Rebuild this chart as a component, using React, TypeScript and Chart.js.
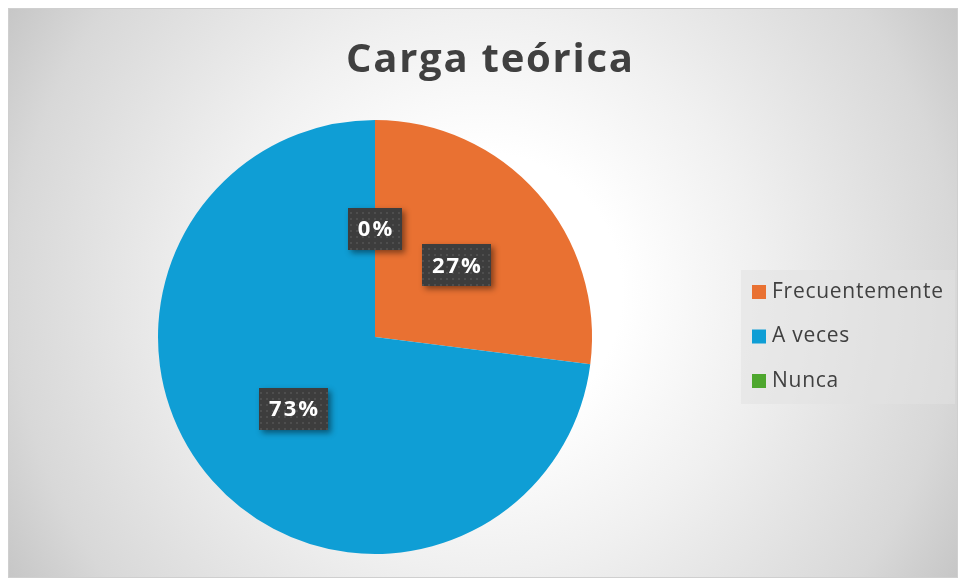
import { useEffect, useRef } from "react";
import { Chart, registerables } from "chart.js";
Chart.register(...registerables);

const chartTitle = "Carga teórica";
const categories = ["Frecuentemente", "A veces", "Nunca"];
const values = [27, 73, 0];
const colors = ["#E97132", "#0F9ED5", "#4EA72E"];

const FONT = "'Open Sans', 'Liberation Sans', Arial, sans-serif";

function makePattern(ctx: CanvasRenderingContext2D) {
  const c = document.createElement("canvas");
  c.width = 6;
  c.height = 6;
  const p = c.getContext("2d")!;
  p.fillStyle = "#3d3d3d";
  p.fillRect(0, 0, 6, 6);
  p.fillStyle = "#4e4e4e";
  p.fillRect(2, 2, 2, 2);
  return ctx.createPattern(c, "repeat")!;
}

function fitSpacing(ctx: CanvasRenderingContext2D, text: string, target: number) {
  (ctx as any).letterSpacing = "0px";
  const w = ctx.measureText(text).width;
  const n = Math.max(1, text.length - 1);
  const s = Math.max(0, (target - w) / n);
  (ctx as any).letterSpacing = s.toFixed(2) + "px";
}

const bgPlugin = {
  id: "bgPlugin",
  beforeDraw(chart: any) {
    const ctx = chart.ctx as CanvasRenderingContext2D;
    const W = chart.width;
    const H = chart.height;
    ctx.save();
    ctx.fillStyle = "#ffffff";
    ctx.fillRect(0, 0, W, H);
    const cx = 483, cy = 292;
    const g = ctx.createRadialGradient(cx, cy, 0, cx, cy, 555);
    g.addColorStop(0, "#ffffff");
    g.addColorStop(0.25, "#ffffff");
    g.addColorStop(0.5, "#f0f0f0");
    g.addColorStop(0.85, "#d8d8d8");
    g.addColorStop(1, "#c6c6c6");
    ctx.fillStyle = g;
    ctx.fillRect(9, 9, W - 10, H - 11);
    ctx.strokeStyle = "#cfcfcf";
    ctx.lineWidth = 1;
    ctx.strokeRect(8.5, 8.5, W - 9, H - 10);
    ctx.restore();
  },
};

const overlayPlugin = {
  id: "overlayPlugin",
  afterDraw(chart: any) {
    const ctx = chart.ctx as CanvasRenderingContext2D;
    ctx.save();
    // Title
    ctx.fillStyle = "#404040";
    ctx.font = `bold 40px ${FONT}`;
    fitSpacing(ctx, chartTitle, 287);
    ctx.textAlign = "left";
    ctx.textBaseline = "alphabetic";
    ctx.fillText(chartTitle, 346, 72);

    // Legend
    (ctx as any).letterSpacing = "0px";
    ctx.fillStyle = "rgba(226,226,226,0.55)";
    ctx.fillRect(741, 270, 214, 134);
    const labels = chart.data.labels as string[];
    const bg = chart.data.datasets[0].backgroundColor as string[];
    ctx.font = `21px ${FONT}`;
    fitSpacing(ctx, labels[0], 171);
    ctx.textAlign = "left";
    ctx.textBaseline = "middle";
    labels.forEach((lab, i) => {
      const y = 292 + i * 44.5;
      ctx.fillStyle = bg[i];
      ctx.fillRect(752, y - 7, 14, 14);
      ctx.fillStyle = "#404040";
      ctx.fillText(lab, 772, y);
    });

    // Data labels
    const meta = chart.getDatasetMeta(0);
    const data = chart.data.datasets[0].data as number[];
    const total = data.reduce((a, b) => a + b, 0);
    const pattern = makePattern(ctx);
    ctx.font = `bold 22px ${FONT}`;
    fitSpacing(ctx, "27%", 49);
    ctx.textAlign = "center";
    meta.data.forEach((arc: any, i: number) => {
      const pos = arc.tooltipPosition();
      const txt = Math.round((data[i] / total) * 100) + "%";
      const tw = ctx.measureText(txt).width;
      const w = Math.round(tw + 18);
      const h = 42;
      const x = Math.round(pos.x - w / 2);
      const y = Math.round(pos.y - h / 2);
      ctx.save();
      ctx.shadowColor = "rgba(0,0,0,0.45)";
      ctx.shadowBlur = 6;
      ctx.shadowOffsetX = 3;
      ctx.shadowOffsetY = 3;
      ctx.fillStyle = "#3d3d3d";
      ctx.fillRect(x, y, w, h);
      ctx.restore();
      ctx.fillStyle = pattern;
      ctx.fillRect(x, y, w, h);
      ctx.fillStyle = "#ffffff";
      ctx.textBaseline = "middle";
      ctx.fillText(txt, pos.x + 1, pos.y + 1);
    });
    ctx.restore();
  },
};

export default function App() {
  const ref = useRef<HTMLCanvasElement>(null);
  useEffect(() => {
    document.body.style.margin = "0";
    const canvas = ref.current!;
    const chart = new Chart(canvas, {
      type: "pie",
      data: {
        labels: categories,
        datasets: [
          {
            data: values,
            backgroundColor: colors,
            borderWidth: 0,
          },
        ],
      },
      options: {
        responsive: false,
        animation: false,
        devicePixelRatio: 1,
        layout: { padding: { top: 120, bottom: 25, left: 158, right: 366 } },
        plugins: {
          legend: { display: false },
          title: { display: false },
          tooltip: { enabled: false },
        },
      },
      plugins: [bgPlugin, overlayPlugin],
    } as any);
    return () => chart.destroy();
  }, []);
  return <canvas ref={ref} width={958} height={579} style={{ display: "block" }} />;
}
